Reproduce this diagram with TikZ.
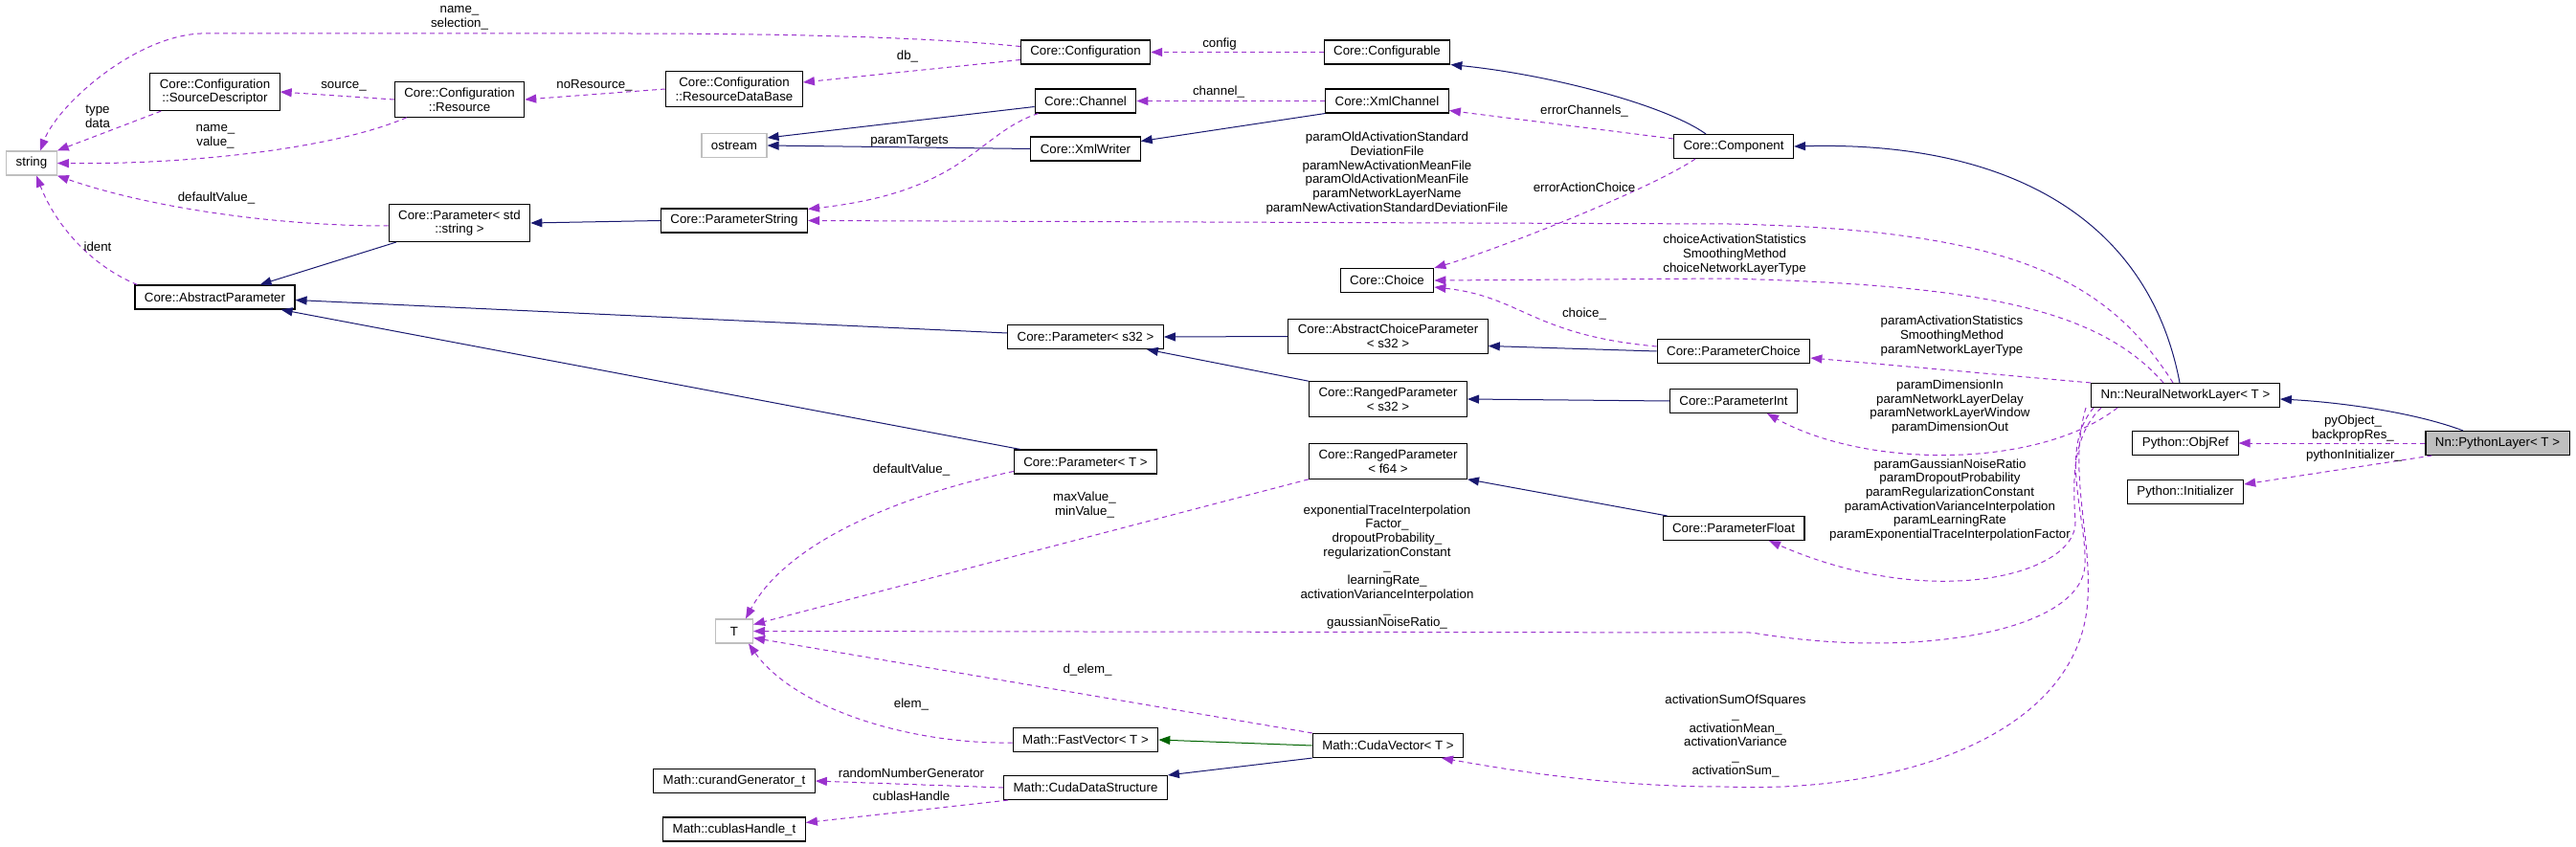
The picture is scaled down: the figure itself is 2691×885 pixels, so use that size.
\documentclass[tikz,border=0pt]{standalone}
\usepackage{fontspec}
\setmainfont{Liberation Sans}
\usetikzlibrary{arrows.meta}
\definecolor{navyedge}{HTML}{191970}
\definecolor{orchidedge}{HTML}{9A32CD}
\definecolor{greenedge}{HTML}{006400}
\definecolor{extgray}{HTML}{BFBFBF}
\tikzset{cbox/.style={
    rectangle,
    draw,
    line width=1.1pt,
    align=center,
    inner xsep=10pt,
    inner ysep=6pt,
    minimum height=25pt,
    font=\fontsize{13.3}{14.7}\selectfont
  },
  extbox/.style={cbox,draw=extgray},
  focbox/.style={cbox,fill=extgray},
  lbl/.style={align=center,inner sep=0pt,font=\fontsize{13.3}{14.7}\selectfont},
  inh/.style={color=navyedge,line width=1pt,-{Triangle[length=12pt,width=9pt]}},
  inhg/.style={inh,color=greenedge},
  dep/.style={color=orchidedge,line width=1pt,dash pattern=on 5pt off 4pt,-{Triangle[length=12pt,width=9pt]}},
}

\begin{document}
\begin{tikzpicture}[x=1pt,y=-1pt]
  \useasboundingbox (0,0) rectangle (2691,885);

  \node[extbox] (string) at (33,170.5) {string};
  \node[cbox] (srcdesc) at (224.5,96) {Core::Configuration\\::SourceDescriptor};
  \node[cbox] (resource) at (480,104) {Core::Configuration\\::Resource};
  \node[cbox] (resdb) at (767,93) {Core::Configuration\\::ResourceDataBase};
  \node[extbox] (ostream) at (767,152) {ostream};
  \node[cbox] (paramstd) at (480,233) {Core::Parameter< std\\::string >};
  \node[cbox] (paramstr) at (767,230.5) {Core::ParameterString};
  \node[cbox] (abspar) at (224.5,310.5) {Core::AbstractParameter};
  \node[extbox,minimum width=39pt] (tparam) at (767,659.5) {T};
  \node[cbox] (curand) at (767,816) {Math::curandGenerator\_t};
  \node[cbox] (cublas) at (767,866.5) {Math::cublasHandle\_t};
  \node[cbox] (config) at (1134,54.5) {Core::Configuration};
  \node[cbox] (configurable) at (1449,54.5) {Core::Configurable};
  \node[cbox] (channel) at (1134,105.5) {Core::Channel};
  \node[cbox] (xmlchannel) at (1449,105.5) {Core::XmlChannel};
  \node[cbox] (xmlwriter) at (1134,155.5) {Core::XmlWriter};
  \node[cbox] (choice) at (1449,293) {Core::Choice};
  \node[cbox] (params32) at (1134,352) {Core::Parameter< s32 >};
  \node[cbox] (abschoice) at (1450,351.5) {Core::AbstractChoiceParameter\\< s32 >};
  \node[cbox] (rangeds32) at (1450,417) {Core::RangedParameter\\< s32 >};
  \node[cbox] (paramT) at (1134,482.5) {Core::Parameter< T >};
  \node[cbox] (rangedf64) at (1450,482) {Core::RangedParameter\\< f64 >};
  \node[cbox] (fastvec) at (1134,773) {Math::FastVector< T >};
  \node[cbox] (cudavec) at (1450,779) {Math::CudaVector< T >};
  \node[cbox] (cudads) at (1134,823) {Math::CudaDataStructure};
  \node[cbox] (component) at (1811,153) {Core::Component};
  \node[cbox] (pchoice) at (1811,367) {Core::ParameterChoice};
  \node[cbox] (pint) at (1811,419) {Core::ParameterInt};
  \node[cbox] (pfloat) at (1811,552) {Core::ParameterFloat};
  \node[cbox] (nnlayer) at (2283,413) {Nn::NeuralNetworkLayer< T >};
  \node[cbox] (objref) at (2283,463) {Python::ObjRef};
  \node[cbox] (pyinit) at (2283,514) {Python::Initializer};
  \node[focbox] (pylayer) at (2609,463) {Nn::PythonLayer< T >};

  % inheritance
  \draw[inh] ([xshift=-29pt]component.north) .. controls (1740,110) and (1620,78) .. (configurable.south east);
  \draw[inh] ([xshift=-6pt]nnlayer.north) .. controls (2245,230) and (2100,147) .. (component.east);
  \draw[inh] ([xshift=-36pt]pylayer.north) .. controls (2520,430) and (2440,420) .. ([yshift=-4pt]nnlayer.east);
  \draw[inh] (xmlchannel.south west) -- ([yshift=8pt]xmlwriter.east);
  \draw[inh] ([yshift=-6pt]channel.west) -- ([yshift=8pt]ostream.east);
  \draw[inh] (xmlwriter.west) -- (ostream.east);
  \draw[inh] (paramstr.west) -- (paramstd.east);
  \draw[inh] ([xshift=8pt]paramstd.south west) -- ([xshift=-37pt]abspar.north east);
  \draw[inh] ([yshift=4pt]params32.west) -- ([yshift=-3pt]abspar.east);
  \draw[inh] ([xshift=7pt]paramT.north west) -- ([xshift=-15pt]abspar.south east);
  \draw[inh] (abschoice.west) -- (params32.east);
  \draw[inh] (rangeds32.north west) -- ([xshift=-18pt]params32.south east);
  \draw[inh] (pchoice.west) -- ([yshift=-10pt]abschoice.east);
  \draw[inh] (pint.west) -- (rangeds32.east);
  \draw[inh] ([xshift=5pt]pfloat.north west) -- (rangedf64.south east);
  \draw[inhg] (cudavec.west) -- (fastvec.east);
  \draw[inh] (cudavec.south west) -- (cudads.north east);

  % usage
  \draw[dep] (configurable.west) -- (config.east);
  \draw[dep] (xmlchannel.west) -- (channel.east);
  \draw[dep] ([yshift=8pt]component.west) -- ([yshift=-10pt]xmlchannel.east);
  \draw[dep] ([xshift=-40pt]component.south) .. controls (1720,200) and (1560,262) .. (choice.north east);
  \draw[dep] ([xshift=-23pt]nnlayer.north) .. controls (2190,320) and (2060,298) .. (1806,291) -- (choice.east);
  \draw[dep] ([xshift=-13pt]nnlayer.north) .. controls (2200,290) and (2100,240) .. (1806,234) -- (paramstr.east);
  \draw[dep] ([yshift=5pt]pchoice.west) .. controls (1600,350) and (1590,310) .. ([yshift=-7pt]choice.east);
  \draw[dep] (nnlayer.north west) -- ([yshift=-7pt]pchoice.east);
  \draw[dep] ([xshift=-71pt]nnlayer.south) .. controls (2130,490) and (1950,490) .. ([xshift=35pt]pint.south);
  \draw[dep] ([xshift=-88pt]nnlayer.south) .. controls (2165,455) and (2165,500) .. (2168,545)
    .. controls (2170,600) and (2020,640) .. ([xshift=37pt]pfloat.south);
  \draw[dep] ([xshift=-96pt]nnlayer.south) .. controls (2150,470) and (2180,540) .. (2178,590)
    .. controls (2175,660) and (2000,690) .. (1830,661) -- (tparam.east);
  \draw[dep] ([xshift=-104pt]nnlayer.south) .. controls (2160,490) and (2185,560) .. (2181,625)
    .. controls (2175,760) and (2000,830) .. (1800,822) .. controls (1680,822) and (1580,805) .. ([xshift=56pt]cudavec.south);
  \draw[dep] (pylayer.west) -- (objref.east);
  \draw[dep] ([xshift=7pt]pylayer.south west) -- ([yshift=8pt]pyinit.east);
  \draw[dep] ([xshift=4pt]channel.south west) .. controls (1020,140) and (1010,200) .. ([yshift=-1pt]paramstr.north east);
  \draw[dep] ([yshift=-8pt]config.west) -- ([yshift=7pt]resdb.east);
  \draw[dep] ([yshift=6pt]config.west) .. controls (960,38) and (800,35) .. (650,35) -- (210,35)
    .. controls (140,38) and (60,110) .. ([xshift=9pt]string.north);
  \draw[dep] ([xshift=12pt]srcdesc.south west) -- (string.north east);
  \draw[dep] (resource.west) -- (srcdesc.east);
  \draw[dep] (resdb.west) -- (resource.east);
  \draw[dep] ([xshift=13pt]resource.south west) .. controls (350,155) and (200,172) .. (string.east);
  \draw[dep] ([yshift=-3pt]paramstd.west) .. controls (280,236) and (150,215) .. (string.south east);
  \draw[dep] ([xshift=3pt]abspar.north west) .. controls (100,280) and (60,240) .. ([xshift=5pt]string.south);
  \draw[dep] ([yshift=-10pt]paramT.west) .. controls (930,520) and (820,570) .. ([xshift=12pt]tparam.north);
  \draw[dep] (rangedf64.south west) -- ([yshift=7pt]tparam.east);
  \draw[dep] (cudavec.north west) -- ([yshift=-7pt]tparam.east);
  \draw[dep] ([yshift=-3pt]fastvec.west) .. controls (950,778) and (830,740) .. ([xshift=15pt]tparam.south);
  \draw[dep] (cudads.west) -- (curand.east);
  \draw[dep] ([xshift=5pt]cudads.south west) -- ([yshift=7pt]cublas.east);

  % edge labels
  \node[lbl] (lblsel) at (480,19) {name\_\\selection\_};
  \node[lbl] (lbltype) at (102,122) {type\\data};
  \node[lbl] (lblsource) at (359,90) {source\_};
  \node[lbl] (lblnores) at (621,89) {noResource\_};
  \node[lbl] (lblnameval) at (225,142.5) {name\_\\value\_};
  \node[lbl] (lbldefstr) at (226,207) {defaultValue\_};
  \node[lbl] (lblident) at (102,258) {ident};
  \node[lbl] (lblconfig) at (1274,46) {config};
  \node[lbl] (lbldb) at (948,59) {db\_};
  \node[lbl] (lblchannel) at (1273,96.5) {channel\_};
  \node[lbl] (lbltargets) at (950,147) {paramTargets};
  \node[lbl] (lblerrch) at (1655,116) {errorChannels\_};
  \node[lbl] (lblpstr) at (1449,181) {paramOldActivationStandard\\DeviationFile\\paramNewActivationMeanFile\\paramOldActivationMeanFile\\paramNetworkLayerName\\paramNewActivationStandardDeviationFile};
  \node[lbl] (lblerrac) at (1655,196) {errorActionChoice};
  \node[lbl] (lblchoices) at (1812,266) {choiceActivationStatistics\\SmoothingMethod\\choiceNetworkLayerType};
  \node[lbl] (lblchoice) at (1655,328) {choice\_};
  \node[lbl] (lblpchoice) at (2039,351) {paramActivationStatistics\\SmoothingMethod\\paramNetworkLayerType};
  \node[lbl] (lblpint) at (2037,425) {paramDimensionIn\\paramNetworkLayerDelay\\paramNetworkLayerWindow\\paramDimensionOut};
  \node[lbl] (lblpfloat) at (2037,522.5) {paramGaussianNoiseRatio\\paramDropoutProbability\\paramRegularizationConstant\\paramActivationVarianceInterpolation\\paramLearningRate\\paramExponentialTraceInterpolationFactor};
  \node[lbl] (lblpyobj) at (2458,447.5) {pyObject\_\\backpropRes\_};
  \node[lbl] (lblpyinit) at (2459,476) {pythonInitializer\_};
  \node[lbl] (lbldeft) at (952,491) {defaultValue\_};
  \node[lbl] (lblmaxmin) at (1133,527.5) {maxValue\_\\minValue\_};
  \node[lbl] (lblnoise) at (1449,592.5) {exponentialTraceInterpolation\\Factor\_\\dropoutProbability\_\\regularizationConstant\\\_\\learningRate\_\\activationVarianceInterpolation\\\_\\gaussianNoiseRatio\_};
  \node[lbl] (lbldelem) at (1136,700) {d\_elem\_};
  \node[lbl] (lblelem) at (952,736) {elem\_};
  \node[lbl] (lblrng) at (952,808) {randomNumberGenerator};
  \node[lbl] (lblcublas) at (952,832) {cublasHandle};
  \node[lbl] (lblact) at (1813,769) {activationSumOfSquares\\\_\\activationMean\_\\activationVariance\\\_\\activationSum\_};
\end{tikzpicture}
\end{document}
